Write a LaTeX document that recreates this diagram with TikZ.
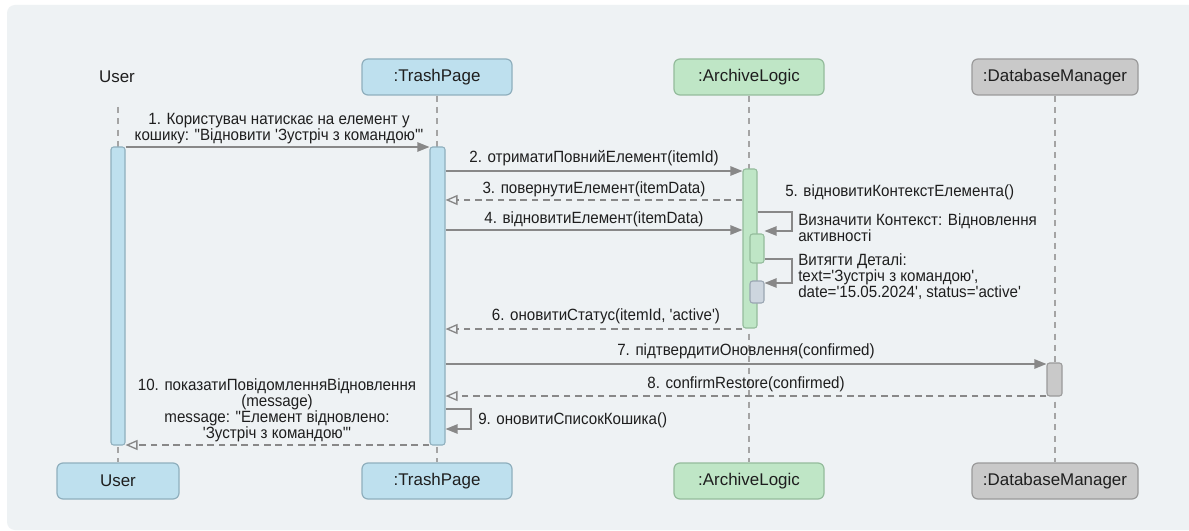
\documentclass[tikz,border=0pt]{standalone}
\usepackage{fontspec}
\newfontfamily\headfont{Liberation Sans}
\newfontfamily\lblfont{Liberation Sans}[FakeStretch=0.93]
\usetikzlibrary{arrows.meta}

\definecolor{panel}{HTML}{EEF2F4}
\definecolor{blueFill}{HTML}{BEE0EE}
\definecolor{blueLine}{HTML}{8FAFBD}
\definecolor{greenFill}{HTML}{BFE6C6}
\definecolor{greenLine}{HTML}{94BC9C}
\definecolor{grayFill}{HTML}{C9C9C9}
\definecolor{grayLine}{HTML}{9A9A9A}
\definecolor{slateFill}{HTML}{CDD6DF}
\definecolor{slateLine}{HTML}{9AA6B2}
\definecolor{msgLine}{HTML}{888888}
\definecolor{lifeLine}{HTML}{A4A4A4}
\definecolor{ink}{HTML}{1E1E1E}

\tikzset{
  head/.style={rounded corners=4.5pt, draw, line width=0.9pt, minimum height=27pt,
    inner sep=0pt, font=\headfont\fontsize{12.7}{14}\selectfont, text=ink},
  lifeline/.style={draw=lifeLine, line width=1.1pt, dash pattern=on 4.5pt off 4pt},
  act/.style={draw, rounded corners=2pt, line width=0.8pt, minimum width=10.5pt, inner sep=0pt},
  msg/.style={draw=msgLine, line width=1.1pt, -{Triangle[length=9pt,width=7pt]}},
  ret/.style={draw=msgLine, line width=1pt, dash pattern=on 5pt off 3.5pt,
    -{Triangle[open,length=9pt,width=7.5pt,fill=panel]}},
  selfmsg/.style={draw=msgLine, line width=1.1pt, -{Triangle[length=9pt,width=7pt]}},
  lbl/.style={font=\lblfont\fontsize{12.2}{11.9}\selectfont, text=ink, inner sep=0pt, align=center},
}

\begin{document}
\begin{tikzpicture}[x=0.75pt,y=-0.75pt]
\useasboundingbox (0,0) rectangle (1189,531);
\fill[white] (0,0) rectangle (1189,531);
\fill[panel, rounded corners=6pt] (7,5) rectangle (1200,530);

% participant heads
\node[text=ink, font=\headfont\fontsize{12.7}{14}\selectfont] (uTop) at (117,77) {User};
\node[head, fill=blueFill, draw=blueLine, minimum width=112.5pt] (tTop) at (437,77) {:TrashPage};
\node[head, fill=greenFill, draw=greenLine, minimum width=112.5pt] (aTop) at (749,77) {:ArchiveLogic};
\node[head, fill=grayFill, draw=grayLine, minimum width=124.5pt] (dTop) at (1055,77) {:DatabaseManager};

\node[head, fill=blueFill, draw=blueLine, minimum width=91.5pt] (uBot) at (118,481) {User};
\node[head, fill=blueFill, draw=blueLine, minimum width=112.5pt] (tBot) at (437,481) {:TrashPage};
\node[head, fill=greenFill, draw=greenLine, minimum width=112.5pt] (aBot) at (749,481) {:ArchiveLogic};
\node[head, fill=grayFill, draw=grayLine, minimum width=124.5pt] (dBot) at (1055,481) {:DatabaseManager};

% lifelines
\draw[lifeline] (uBot.north |- 0,107) -- (uBot.north);
\draw[lifeline] (tTop.south) -- (tBot.north);
\draw[lifeline] (aTop.south) -- (aBot.north);
\draw[lifeline] (dTop.south) -- (dBot.north);

% activation bars
\node[act, fill=blueFill, draw=blueLine, minimum height=223.5pt] (actU) at (118,296) {};
\node[act, fill=blueFill, draw=blueLine, minimum height=223.5pt, minimum width=11.25pt] (actT) at (437.5,296) {};
\node[act, fill=greenFill, draw=greenLine, minimum height=119.25pt] (actA) at (750,248.5) {};
\node[act, fill=greenFill, draw=greenLine, minimum height=21.75pt] (actA2) at (757,248.5) {};
\node[act, fill=slateFill, draw=slateLine, minimum height=16.5pt] (actG) at (757,292) {};
\node[act, fill=grayFill, draw=grayLine, minimum height=24.75pt, minimum width=11.25pt] (actD) at (1054.5,379.5) {};

% 1
\draw[msg] (actU.east |- 0,147) -- (actT.west |- 0,147);
\node[lbl] (l1) at (279,128.5) {1. Користувач натискає на елемент у\\кошику: "Відновити 'Зустріч з командою'"};
% 2
\draw[msg] (actT.east |- 0,171) -- (actA.west |- 0,171);
\node[lbl] (l2) at (594,158) {2. отриматиПовнийЕлемент(itemId)};
% 3
\draw[ret] (actA.west |- 0,200) -- (actT.east |- 0,200);
\node[lbl] (l3) at (594,189) {3. повернутиЕлемент(itemData)};
% 4
\draw[msg] (actT.east |- 0,230) -- (actA.west |- 0,230);
\node[lbl] (l4) at (594,219) {4. відновитиЕлемент(itemData)};
% 5 and its nested steps
\node[lbl, anchor=west] (l5) at (785,192) {5. відновитиКонтекстЕлемента()};
\coordinate (k1) at (792,212);
\coordinate (k2) at (792,231);
\draw[selfmsg] (actA.east |- k1) -- (k1) -- (k2) -- (actA2.east |- k2);
\node[lbl, anchor=west, align=left] (l5a) at (798,228) {Визначити Контекст: Відновлення\\активності};
\coordinate (k3) at (792,259);
\coordinate (k4) at (792,283);
\draw[selfmsg] (actA2.east |- k3) -- (k3) -- (k4) -- (actG.east |- k4);
\node[lbl, anchor=west, align=left] (l5b) at (798,276.5) {Витягти Деталі:\\text='Зустріч з командою',\\date='15.05.2024', status='active'};
% 6
\draw[ret] (actA.west |- 0,329) -- (actT.east |- 0,329);
\node[lbl] (l6) at (606,316) {6. оновитиСтатус(itemId, 'active')};
% 7
\draw[msg] (actT.east |- 0,364) -- (actD.west |- 0,364);
\node[lbl] (l7) at (746,351) {7. підтвердитиОновлення(confirmed)};
% 8
\draw[ret] (actD.west |- 0,396) -- (actT.east |- 0,396);
\node[lbl] (l8) at (746,384) {8. confirmRestore(confirmed)};
% 9
\coordinate (k5) at (471,409);
\coordinate (k6) at (471,429);
\draw[selfmsg] (actT.east |- k5) -- (k5) -- (k6) -- (actT.east |- k6);
\node[lbl, anchor=west] (l9) at (478,420) {9. оновитиСписокКошика()};
% 10
\draw[ret] (actT.west |- 0,445) -- (actU.east |- 0,445);
\node[lbl] (l10) at (277,410) {10. показатиПовідомленняВідновлення\\(message)\\message: "Елемент відновлено:\\'Зустріч з командою'"};
\end{tikzpicture}
\end{document}
